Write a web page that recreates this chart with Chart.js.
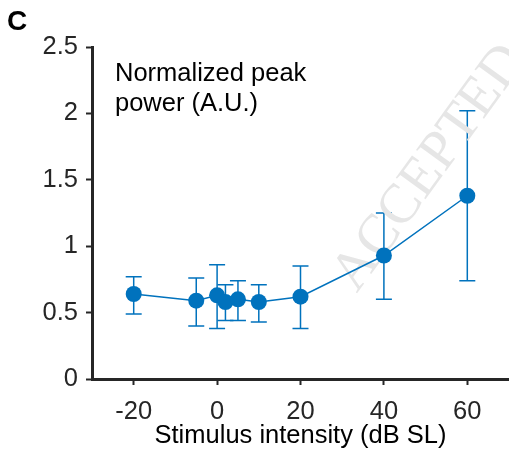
<!DOCTYPE html>
<html>
<head>
<meta charset="utf-8">
<script src="https://cdn.jsdelivr.net/npm/chart.js@4.4.1/dist/chart.umd.min.js"></script>
<style>
  html, body { margin: 0; padding: 0; background: #fff; }
  #wrap { width: 509px; height: 455px; position: relative; }
</style>
</head>
<body>
<div id="wrap"><canvas id="grafico"></canvas></div>
<script>
// DADOS
var intensidades = [-20, -5, 0, 2, 5, 10, 20, 40, 60];
var potencia = [0.64, 0.59, 0.63, 0.58, 0.60, 0.58, 0.62, 0.93, 1.38];
var erroInferior = [0.49, 0.40, 0.38, 0.44, 0.44, 0.43, 0.38, 0.60, 0.74];
var erroSuperior = [0.77, 0.76, 0.86, 0.71, 0.74, 0.71, 0.85, 1.25, 2.02];
var ticksX = [-20, 0, 20, 40, 60];
var ticksY = [0, 0.5, 1, 1.5, 2, 2.5];

var azul = '#0072BD';
var eixoCor = '#262626';
var fonte = '"Liberation Sans", Arial, Helvetica, sans-serif';

var pontos = intensidades.map(function(x, i) {
    return { x: x, y: potencia[i] };
});

// barras de erro desenhadas com as escalas do grafico
var pluginErro = {
    id: 'barrasErro',
    beforeDatasetsDraw: function(chart) {
        var ctx = chart.ctx;
        var sx = chart.scales.x, sy = chart.scales.y;
        ctx.save();
        ctx.strokeStyle = azul;
        ctx.lineWidth = 1.5;
        intensidades.forEach(function(x, i) {
            var px = sx.getPixelForValue(x);
            var y1 = sy.getPixelForValue(erroInferior[i]);
            var y2 = sy.getPixelForValue(erroSuperior[i]);
            ctx.beginPath();
            ctx.moveTo(px, y1); ctx.lineTo(px, y2);
            ctx.moveTo(px - 8, y1); ctx.lineTo(px + 8, y1);
            ctx.moveTo(px - 8, y2); ctx.lineTo(px + 8, y2);
            ctx.stroke();
        });
        ctx.restore();
    }
};

// textos: letra do painel, rotulo e marca d'agua
var pluginTextos = {
    id: 'textos',
    beforeDatasetsDraw: function(chart) {
        var ctx = chart.ctx;
        ctx.save();
        ctx.translate(430, 168);
        ctx.rotate(-54 * Math.PI / 180);
        ctx.fillStyle = '#e6e6e6';
        ctx.font = '56px "Liberation Serif", serif';
        ctx.textAlign = 'center';
        ctx.textBaseline = 'middle';
        ctx.fillText('ACCEPTED', 0, 0);
        ctx.restore();
    },
    afterDraw: function(chart) {
        var ctx = chart.ctx;
        ctx.save();
        ctx.fillStyle = '#000';
        ctx.font = 'bold 28px ' + fonte;
        ctx.textBaseline = 'alphabetic';
        ctx.fillText('C', 7, 30);
        ctx.font = '25.5px ' + fonte;
        ctx.fillText('Normalized peak', 115, 81);
        ctx.fillText('power (A.U.)', 115, 111);
        ctx.restore();
    }
};

var grafico = new Chart(document.getElementById('grafico').getContext('2d'), {
    type: 'scatter',
    data: {
        datasets: [{
            data: pontos,
            showLine: true,
            borderColor: azul,
            backgroundColor: azul,
            borderWidth: 1.5,
            pointRadius: 8,
            pointHoverRadius: 8,
            pointBorderWidth: 0
        }]
    },
    options: {
        responsive: true,
        maintainAspectRatio: false,
        animation: false,
        layout: { autoPadding: false, padding: { top: 47, right: 0, left: 0, bottom: 0 } },
        scales: {
            x: {
                type: 'linear',
                min: -30,
                max: 70,
                afterBuildTicks: function(axis) {
                    axis.ticks = ticksX.map(function(v) { return { value: v }; });
                },
                grid: { drawOnChartArea: false, drawTicks: true, tickLength: 6, tickColor: eixoCor, tickWidth: 2 },
                border: { display: true, color: eixoCor, width: 3 },
                ticks: {
                    color: eixoCor, font: { family: fonte, size: 25.5 }, padding: 12, maxRotation: 0,
                    callback: function(v) { return String(v); }
                },
                title: {
                    display: true,
                    text: 'Stimulus intensity (dB SL)',
                    color: '#000',
                    font: { family: fonte, size: 25.5 },
                    padding: { top: 0, bottom: 4 }
                },
                afterFit: function(axis) {
                    axis.height = 76;
                    axis.paddingLeft = 0;
                    axis.paddingRight = 0;
                }
            },
            y: {
                type: 'linear',
                min: 0,
                max: 2.5,
                afterBuildTicks: function(axis) {
                    axis.ticks = ticksY.map(function(v) { return { value: v }; });
                },
                grid: { drawOnChartArea: false, drawTicks: true, tickLength: 6, tickColor: eixoCor, tickWidth: 2 },
                border: { display: true, color: eixoCor, width: 3 },
                ticks: {
                    color: eixoCor, font: { family: fonte, size: 25.5 }, padding: 8,
                    callback: function(v) { return String(v); }
                },
                afterFit: function(axis) {
                    axis.width = 92;
                    axis.paddingTop = 0;
                    axis.paddingBottom = 0;
                }
            }
        },
        plugins: {
            legend: { display: false },
            tooltip: { enabled: false }
        }
    },
    plugins: [pluginErro, pluginTextos]
});
</script>
</body>
</html>
